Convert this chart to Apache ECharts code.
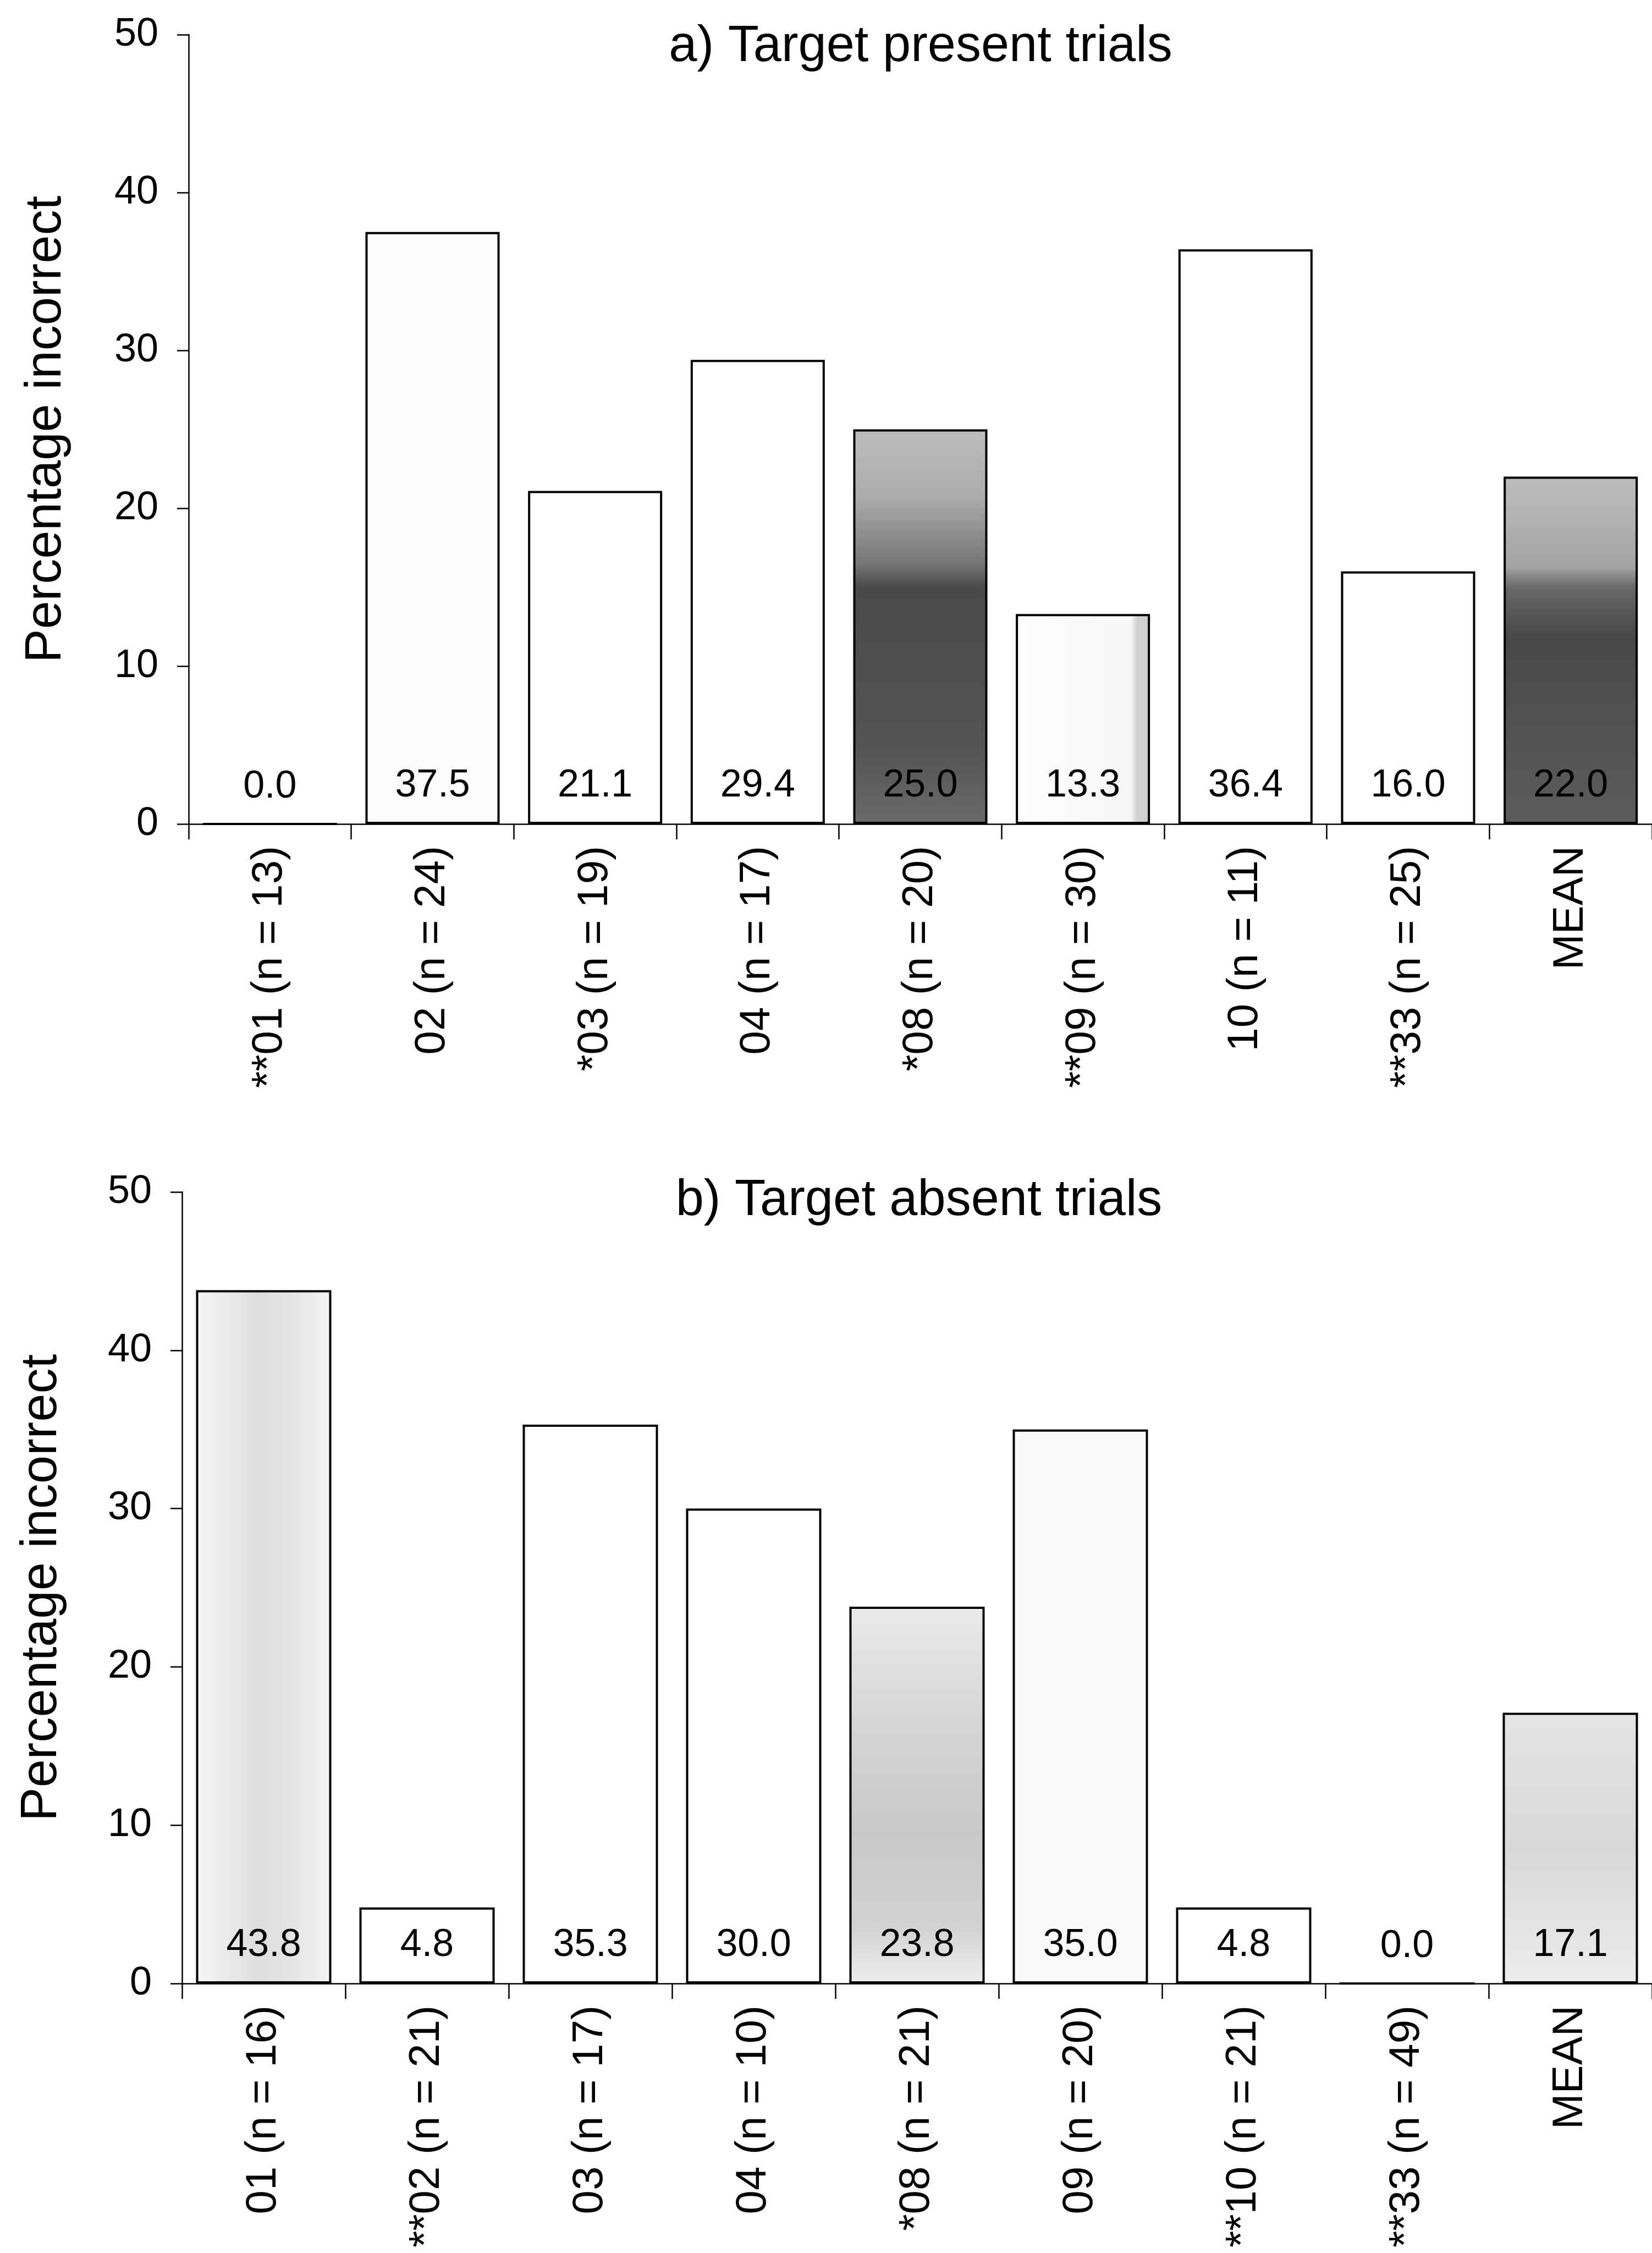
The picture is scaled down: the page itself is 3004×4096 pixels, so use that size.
<!DOCTYPE html>
<html>
<head>
<meta charset="utf-8">
<style>
  html, body { margin: 0; padding: 0; background: #ffffff; }
  #chart { width: 3004px; height: 4096px; }
</style>
<script src="https://cdn.jsdelivr.net/npm/echarts@6/dist/echarts.min.js"></script>
</head>
<body>
<div id="chart"></div>
<script>
// a) Target present trials
const presentCategories = ['**01 (n = 13)', '02 (n = 24)', '*03 (n = 19)', '04 (n = 17)', '*08 (n = 20)',
                           '**09 (n = 30)', '10 (n = 11)', '**33 (n = 25)', 'MEAN'];
const presentPercent = [0.0, 37.5, 21.1, 29.4, 25.0, 13.3, 36.4, 16.0, 22.0];

// b) Target absent trials
const absentCategories = ['01 (n = 16)', '**02 (n = 21)', '03 (n = 17)', '04 (n = 10)', '*08 (n = 21)',
                          '09 (n = 20)', '**10 (n = 21)', '**33 (n = 49)', 'MEAN'];
const absentPercent = [43.8, 4.8, 35.3, 30.0, 23.8, 35.0, 4.8, 0.0, 17.1];

// y axis ticks (percentage incorrect)
const percentTicks = [0, 10, 20, 30, 40, 50];

const panelTitles = ['a) Target present trials', 'b) Target absent trials'];
const yAxisTitle = 'Percentage incorrect';

// ---- styling ----
const FONT = '"Liberation Sans", Arial, Helvetica, sans-serif';
const INK = '#000000';
const vGrad = (stops) => new echarts.graphic.LinearGradient(0, 0, 0, 1, stops.map(s => ({ offset: s[0], color: s[1] })));
const hGrad = (stops) => new echarts.graphic.LinearGradient(0, 0, 1, 0, stops.map(s => ({ offset: s[0], color: s[1] })));

// bar fills: plain white boxes plus a few shaded (halftone) bars
const presentFills = [
  '#ffffff',
  '#fbfbfb',
  '#ffffff',
  '#ffffff',
  vGrad([[0, '#bdbdbd'], [0.17, '#acacac'], [0.34, '#767676'], [0.40, '#4a4a4a'], [0.8, '#535353'], [1, '#6a6a6a']]),
  hGrad([[0, '#fdfdfd'], [0.86, '#f6f6f6'], [0.9, '#d2d2d2'], [1, '#cccccc']]),
  '#ffffff',
  '#ffffff',
  vGrad([[0, '#bdbdbd'], [0.26, '#a4a4a4'], [0.32, '#686868'], [0.46, '#484848'], [1, '#5c5c5c']])
];
const absentFills = [
  hGrad([[0, '#f6f6f6'], [0.45, '#dedede'], [0.7, '#e4e4e4'], [1, '#f3f3f3']]),
  '#ffffff',
  '#ffffff',
  '#ffffff',
  vGrad([[0, '#eaeaea'], [0.3, '#d6d6d6'], [0.6, '#c8c8c8'], [0.85, '#d2d2d2'], [1, '#eeeeee']]),
  '#fafafa',
  '#ffffff',
  '#ffffff',
  vGrad([[0, '#e4e4e4'], [0.5, '#d8d8d8'], [1, '#ececec']])
];

// panel geometry (px)
const panels = [
  { grid: { left: 343, top: 63, width: 2668, height: 1435 }, barWidth: 244, nameGap: 212, titleX: 1674, titleY: 86 },
  { grid: { left: 331, top: 2167, width: 2687, height: 1439 }, barWidth: 246, nameGap: 208, titleX: 1671, titleY: 2184 }
];

const lineStyle = { color: INK, width: 2.5 };

function makeX(i, cats) {
  return {
    type: 'category', gridIndex: i, data: cats,
    axisLine: { show: true, lineStyle },
    axisTick: { show: true, length: 28, lineStyle },
    axisLabel: { interval: 0, rotate: 90, margin: 40, fontFamily: FONT, fontSize: 78, color: INK },
    splitLine: { show: false }
  };
}
function makeY(i) {
  return {
    type: 'value', gridIndex: i,
    min: percentTicks[0], max: percentTicks[percentTicks.length - 1],
    interval: percentTicks[1] - percentTicks[0],
    name: yAxisTitle, nameLocation: 'middle', nameRotate: 90, nameGap: panels[i].nameGap,
    nameTextStyle: { fontFamily: FONT, fontSize: 92, color: INK },
    axisLine: { show: true, lineStyle },
    axisTick: { show: true, length: 21, lineStyle },
    axisLabel: { margin: 55, fontFamily: FONT, fontSize: 72, color: INK },
    splitLine: { show: false }
  };
}
function makeSeries(i, values, fills) {
  return {
    type: 'bar', xAxisIndex: i, yAxisIndex: i,
    barWidth: panels[i].barWidth,
    data: values.map((v, k) => ({ value: v, itemStyle: { color: fills[k] } })),
    itemStyle: { borderColor: INK, borderWidth: 4 },
    label: {
      show: true, position: 'insideBottom', distance: 34,
      formatter: p => Number(p.value).toFixed(1),
      fontFamily: FONT, fontSize: 70, color: INK
    },
    emphasis: { disabled: true },
    silent: true
  };
}

const chart = echarts.init(document.getElementById('chart'), null, { renderer: 'canvas' });
chart.setOption({
  backgroundColor: '#ffffff',
  animation: false,
  grid: panels.map(p => Object.assign({ containLabel: false }, p.grid)),
  xAxis: [makeX(0, presentCategories), makeX(1, absentCategories)],
  yAxis: [makeY(0), makeY(1)],
  series: [makeSeries(0, presentPercent, presentFills), makeSeries(1, absentPercent, absentFills)],
  graphic: panels.map((p, i) => ({
    type: 'text', x: p.titleX, y: p.titleY, silent: true,
    style: {
      text: panelTitles[i], fill: INK,
      font: '92px ' + FONT,
      align: 'center', verticalAlign: 'middle',
      textAlign: 'center', textVerticalAlign: 'middle'
    }
  }))
});
</script>
</body>
</html>
